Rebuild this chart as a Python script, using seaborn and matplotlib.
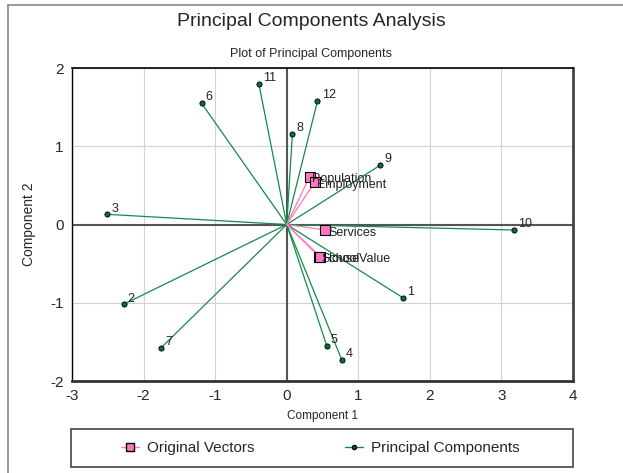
import numpy as np
import pandas as pd
import matplotlib
matplotlib.use('Agg')
import matplotlib.pyplot as plt
import seaborn as sns
from matplotlib.lines import Line2D

# principal component scores
pc_labels = ['1', '2', '3', '4', '5', '6', '7', '8', '9', '10', '11', '12']
pc_x = [1.63, -2.28, -2.51, 0.77, 0.56, -1.19, -1.76, 0.08, 1.31, 3.18, -0.39, 0.43]
pc_y = [-0.94, -1.02, 0.13, -1.73, -1.55, 1.55, -1.58, 1.16, 0.76, -0.07, 1.80, 1.58]

# original variable vectors
var_labels = ['Population', 'Employment', 'Services', 'School', 'HouseValue']
var_x = [0.32, 0.39, 0.54, 0.45, 0.47]
var_y = [0.61, 0.54, -0.07, -0.41, -0.41]

pcs = pd.DataFrame({'x': pc_x, 'y': pc_y, 'label': pc_labels})
vecs = pd.DataFrame({'x': var_x, 'y': var_y, 'label': var_labels})

sns.set_style('white')
plt.rcParams['font.family'] = ['Liberation Sans', 'DejaVu Sans']
plt.rcParams['axes.unicode_minus'] = False

green = '#168a4a'
pink = '#ff77c0'

fig = plt.figure(figsize=(6.23, 4.73), dpi=100)
ax = fig.add_axes([0.1156, 0.1945, 0.8041, 0.6617])

ax.grid(True, color='#d2d2d2', lw=0.8)
ax.axhline(0, color='#555555', lw=1.5, zorder=1)
ax.axvline(0, color='#555555', lw=1.5, zorder=1)

# lines from origin
for _, r in pcs.iterrows():
    ax.plot([0, r['x']], [0, r['y']], color=green, lw=0.9, zorder=2)
for _, r in vecs.iterrows():
    ax.plot([0, r['x']], [0, r['y']], color=pink, lw=0.9, zorder=3)

sns.scatterplot(data=pcs, x='x', y='y', ax=ax, color='#0a6b35', edgecolor='black',
                s=14, linewidth=0.6, zorder=4, legend=False)
sns.scatterplot(data=vecs, x='x', y='y', ax=ax, color=pink, edgecolor='black',
                marker='s', s=50, linewidth=0.8, zorder=5, legend=False)

for _, r in pcs.iterrows():
    ax.annotate(r['label'], (r['x'], r['y']), xytext=(3, 2), textcoords='offset points',
                fontsize=9, color='#222222', zorder=6)
for _, r in vecs.iterrows():
    ax.annotate(r['label'], (r['x'], r['y']), xytext=(2, -4), textcoords='offset points',
                fontsize=9, color='#222222', zorder=6)

ax.set_xlim(-3, 4)
ax.set_ylim(-2, 2)
ax.set_xticks(range(-3, 5))
ax.set_yticks(range(-2, 3))
ax.tick_params(axis='both', labelsize=11, length=0, pad=6)
ax.spines['left'].set(color='black', linewidth=1.0)
ax.spines['top'].set(color='black', linewidth=1.2)
ax.spines['right'].set(color='#444444', linewidth=2.0)
ax.spines['bottom'].set(color='#333333', linewidth=2.0)

ax.set_xlabel('Component 1', fontsize=8.5, labelpad=5)
ax.set_ylabel('Component 2', fontsize=10, labelpad=10)
fig.text(0.5, 0.886, 'Plot of Principal Components', ha='center', va='center', fontsize=9)
fig.text(0.5, 0.9535, 'Principal Components Analysis', ha='center', va='center', fontsize=14)

handles = [
    Line2D([0], [0], color=pink, lw=1, marker='s', markersize=6,
           markerfacecolor=pink, markeredgecolor='black'),
    Line2D([0], [0], color=green, lw=1, marker='o', markersize=3,
           markerfacecolor='#0a6b35', markeredgecolor='black'),
]
leg = fig.legend(handles, ['Original Vectors', 'Principal Components'], ncol=2,
                 loc='center', bbox_to_anchor=(0.514, 0.053),
                 fontsize=11, frameon=False, handlelength=1.2, handletextpad=0.5,
                 borderaxespad=0, columnspacing=5.9)

# legend box
fig.add_artist(plt.Rectangle((71 / 623, 1 - 467 / 473), 502 / 623, 38 / 473,
                             transform=fig.transFigure, fill=False,
                             edgecolor='#444444', lw=1.2))

# outer border (only left and top edges are visible in the original)
fig.add_artist(Line2D([8 / 623, 8 / 623], [0, 1 - 5 / 473], transform=fig.transFigure,
                      color='#888888', lw=1.2))
fig.add_artist(Line2D([8 / 623, 1], [1 - 5 / 473, 1 - 5 / 473], transform=fig.transFigure,
                      color='#888888', lw=1.2))

fig.savefig('out.png', dpi=100)
